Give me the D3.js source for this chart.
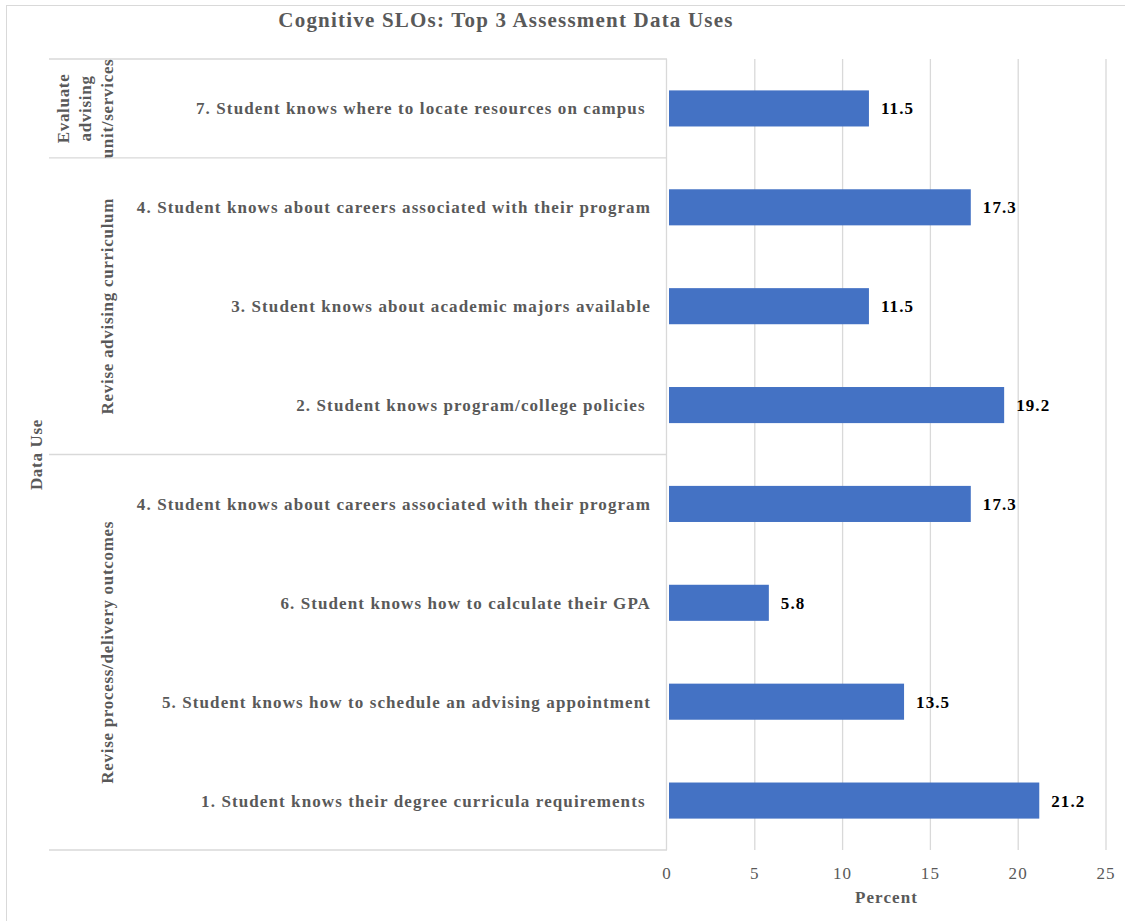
<!DOCTYPE html>
<html>
<head>
<meta charset="utf-8">
<script src="https://cdn.jsdelivr.net/npm/d3@7"></script>
<style>
  body { margin: 0; background: #fff; }
  text { font-family: "Liberation Serif", "Times New Roman", serif; font-size: 17px; letter-spacing: 1.1px; }
</style>
</head>
<body>
<div id="chart"></div>
<script>
const width = 1125;
const height = 921;

// data, top row first
const groups = ["Evaluate advising unit/services", "Revise advising curriculum", "Revise process/delivery outcomes"];
const groupLines = [["Evaluate", "advising", "unit/services"], ["Revise advising curriculum"], ["Revise process/delivery outcomes"]];
const rowGroups = [0, 1, 1, 1, 2, 2, 2, 2];
const labels = [
    "7. Student knows where to locate resources on campus ",
    "4. Student knows about careers associated with their program",
    "3. Student knows about academic majors available",
    "2. Student knows program/college policies ",
    "4. Student knows about careers associated with their program",
    "6. Student knows how to calculate their GPA",
    "5. Student knows how to schedule an advising appointment",
    "1. Student knows their degree curricula requirements "
];
const values = [11.5, 17.3, 11.5, 19.2, 17.3, 5.8, 13.5, 21.2];
const ticks = [0, 5, 10, 15, 20, 25];

const plot = { left: 667, right: 1106, top: 59, bottom: 850 };
const catLeft = 49;
const grey = "#595959";
const lineCol = "#d9d9d9";

const svg = d3.select("#chart").append("svg")
    .attr("width", width)
    .attr("height", height);

// outer frame
svg.append("rect")
    .attr("x", 6.5).attr("y", 5.5)
    .attr("width", 1130).attr("height", 930)
    .attr("fill", "none")
    .attr("stroke", lineCol);

svg.append("text")
    .attr("x", 506).attr("y", 27)
    .attr("text-anchor", "middle")
    .style("font-size", "21px")
    .style("letter-spacing", "1.2px")
    .style("font-weight", "bold")
    .style("fill", grey)
    .text("Cognitive SLOs: Top 3 Assessment Data Uses");

const x = d3.scaleLinear().domain([0, 25]).range([plot.left, plot.right]);
const y = d3.scaleBand()
    .domain(d3.range(labels.length))
    .range([plot.top, plot.bottom])
    .paddingInner(0.635)
    .paddingOuter(0.3175);

// gridlines
svg.append("g").selectAll("line")
    .data(ticks.slice(1))
    .join("line")
    .attr("x1", d => x(d)).attr("x2", d => x(d))
    .attr("y1", plot.top).attr("y2", plot.bottom)
    .attr("stroke", lineCol)
    .attr("stroke-width", 1.3);

// category axis line
svg.append("line")
    .attr("x1", plot.left - 0.5).attr("x2", plot.left - 0.5)
    .attr("y1", plot.top).attr("y2", plot.bottom)
    .attr("stroke", lineCol)
    .attr("stroke-width", 1.3);

// group separators
const step = y.step();
const bounds = [0];
rowGroups.forEach((g, i) => { if (i > 0 && g !== rowGroups[i - 1]) bounds.push(i); });
bounds.push(labels.length);
svg.append("g").selectAll("line")
    .data(bounds)
    .join("line")
    .attr("x1", catLeft).attr("x2", plot.left)
    .attr("y1", d => plot.top + d * step).attr("y2", d => plot.top + d * step)
    .attr("stroke", lineCol)
    .attr("stroke-width", 1.3);

// bars
svg.append("g").selectAll("rect")
    .data(values)
    .join("rect")
    .attr("x", x(0) + 2)
    .attr("y", (d, i) => y(i))
    .attr("width", d => x(d) - x(0) - 2)
    .attr("height", y.bandwidth())
    .attr("fill", "#4472C4");

// value labels
svg.append("g").selectAll("text")
    .data(values)
    .join("text")
    .attr("x", d => x(d) + 12)
    .attr("y", (d, i) => y(i) + y.bandwidth() / 2)
    .attr("dy", "0.35em")
    .style("font-weight", "bold")
    .style("fill", "#000")
    .text(d => d.toFixed(1));

// category labels
svg.append("g").selectAll("text")
    .data(labels)
    .join("text")
    .attr("x", 651)
    .attr("y", (d, i) => y(i) + y.bandwidth() / 2)
    .attr("dy", "0.35em")
    .attr("text-anchor", "end")
    .style("white-space", "pre")
    .style("font-weight", "bold")
    .style("fill", grey)
    .text(d => d);

// group labels (rotated)
groups.forEach((g, gi) => {
    const start = bounds[gi], end = bounds[gi + 1];
    const cy = plot.top + (start + end) / 2 * step;
    const lines = groupLines[gi];
    const t = svg.append("text")
        .attr("transform", `translate(${113 - (lines.length - 1) * 22},${cy}) rotate(-90)`)
        .attr("text-anchor", "middle")
        .style("letter-spacing", "0.7px")
        .style("font-weight", "bold")
        .style("fill", grey);
    lines.forEach((l, li) => {
        t.append("tspan")
            .attr("x", 0)
            .attr("dy", li === 0 ? "0" : "22px")
            .text(l);
    });
});

// axis title (y)
svg.append("text")
    .attr("transform", `translate(42,${(plot.top + plot.bottom) / 2}) rotate(-90)`)
    .attr("text-anchor", "middle")
    .style("letter-spacing", "0.7px")
    .style("font-weight", "bold")
    .style("fill", grey)
    .text("Data Use");

// x tick labels
svg.append("g").selectAll("text")
    .data(ticks)
    .join("text")
    .attr("x", d => x(d))
    .attr("y", 879)
    .attr("text-anchor", "middle")
    .style("fill", grey)
    .text(d => d);

svg.append("text")
    .attr("x", (plot.left + plot.right) / 2)
    .attr("y", 903)
    .attr("text-anchor", "middle")
    .style("font-weight", "bold")
    .style("fill", grey)
    .text("Percent");
</script>
</body>
</html>
